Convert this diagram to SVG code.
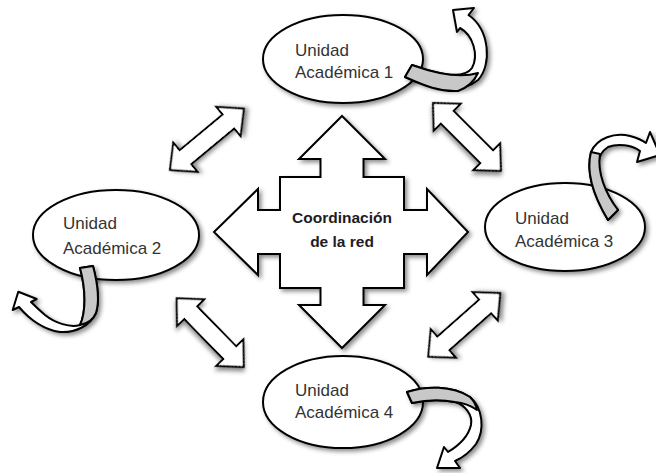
<svg xmlns="http://www.w3.org/2000/svg" xmlns:xlink="http://www.w3.org/1999/xlink" width="656" height="473" viewBox="0 0 656 473">
<style>
.shape{fill:#fff;stroke:#000;stroke-width:2;stroke-linejoin:miter;filter:url(#sh)}
.band{fill:#fff;stroke:#000;stroke-width:2;stroke-linejoin:round;filter:url(#sh)}
.gray{fill:#c8c8c8;stroke:#000;stroke-width:2;stroke-linejoin:round}
.lbl{font-family:"Liberation Sans",Arial,sans-serif;font-size:17px;fill:#333}
.ctr{font-family:"Liberation Sans",Arial,sans-serif;font-size:15.5px;font-weight:bold;fill:#1c1c24;text-anchor:middle}
</style>
<defs>
<filter id="sh" x="-20%" y="-20%" width="140%" height="140%">
<feDropShadow dx="2.5" dy="2.5" stdDeviation="2" flood-color="#000" flood-opacity="0.45"/>
</filter>
<path id="dbl" d="M0,0 L20,-19 L20,-9 L76,-9 L76,-19 L96,0 L76,19 L76,9 L20,9 L20,19 Z"/>
</defs>
<rect width="656" height="473" fill="#fff"/>

<g id="connectors">
<use xlink:href="#dbl" class="shape" transform="translate(170,170) rotate(-39.7)"/>
<use xlink:href="#dbl" class="shape" transform="translate(433,103) rotate(45)"/>
<use xlink:href="#dbl" class="shape" transform="translate(176.7,298.3) rotate(45.7)"/>
<use xlink:href="#dbl" class="shape" transform="translate(428.3,356.7) rotate(-41.5)"/>
</g>

<g id="coordinacion">
<path class="shape" d="M342,116 L385,159 L363.5,159 L363.5,177 L404,177 L404,210 L427,210 L427,189 L468,232 L427,275 L427,254 L404,254 L404,288 L363.5,288 L363.5,305 L385,305 L342,348 L299,305 L320.5,305 L320.5,288 L280,288 L280,254 L258,254 L258,275 L214,232 L258,189 L258,210 L280,210 L280,177 L320.5,177 L320.5,159 L299,159 Z"/>
<text class="ctr" x="342" y="223">Coordinación</text>
<text class="ctr" x="342" y="247">de la red</text>
</g>

<g id="ua1">
<ellipse class="shape" cx="343" cy="59" rx="80" ry="44"/>
<text class="lbl" x="295" y="56">Unidad</text>
<text class="lbl" x="295" y="78">Académica 1</text>
<path class="band" d="M412,65 C445,77 465,78 472,68 C479,55 473,35 460,28 L457,32 L453,10 L474,8 L468.5,15 C490,30 492,65 478,80 C460,95 430,88 405,77 Z"/>
<path class="gray" d="M412,65 C440,75 462,78 478,73 C474,82 466,88 458,91 C440,92 425,86 405,77 Z"/>
</g>

<g id="ua2">
<ellipse class="shape" cx="116" cy="235" rx="83" ry="45"/>
<text class="lbl" x="63" y="229">Unidad</text>
<text class="lbl" x="63" y="254">Académica 2</text>
<path class="band" d="M80,268 C86,290 86,312 80,325 C70,328 55,323 45,315 C38,309 33,304 31,302 L36.7,299 L18.3,291.7 L12.7,310 L19,307 C30,320 45,330 60,332 C75,333 90,326 96,313 C100,300 98,285 93,266 Z"/>
<path class="gray" d="M80,268 C86,290 86,312 80,325 C86,324 93,320 96,313 C100,300 98,285 93,266 Z"/>
</g>

<g id="ua3">
<ellipse class="shape" cx="565" cy="227" rx="80" ry="44"/>
<text class="lbl" x="515" y="224">Unidad</text>
<text class="lbl" x="515" y="247">Académica 3</text>
<path class="band" d="M608,220 C596,200 585,175 591,152 C597,138 615,132 630,136 C637,138 642,140 646,143 L650,132 L660,155 L637,162 L640,151 C632,145 618,143 608,147 C602,151 598,156 599,165 C601,185 608,198 618,210 Z"/>
<path class="gray" d="M608,220 C596,200 585,175 591,152 L600,154 C597,172 605,193 618,210 Z"/>
</g>

<g id="ua4">
<ellipse class="shape" cx="343" cy="402" rx="80" ry="46"/>
<text class="lbl" x="295" y="396">Unidad</text>
<text class="lbl" x="295" y="418">Académica 4</text>
<path class="band" d="M407,392 C425,386 452,385 470,397 C483,408 485,430 476,444 C470,452 462,458 455,461 L460,468 L437,468 L444,447 L448,452 C458,446 468,438 471,425 C473,415 465,405 455,402 C440,399 425,400 412,403 Z"/>
<path class="gray" d="M407,392 C425,386 452,385 470,397 C474,401 476,405 477,410 C470,405 465,403 455,402 C440,399 425,400 412,403 Z"/>
</g>
</svg>
